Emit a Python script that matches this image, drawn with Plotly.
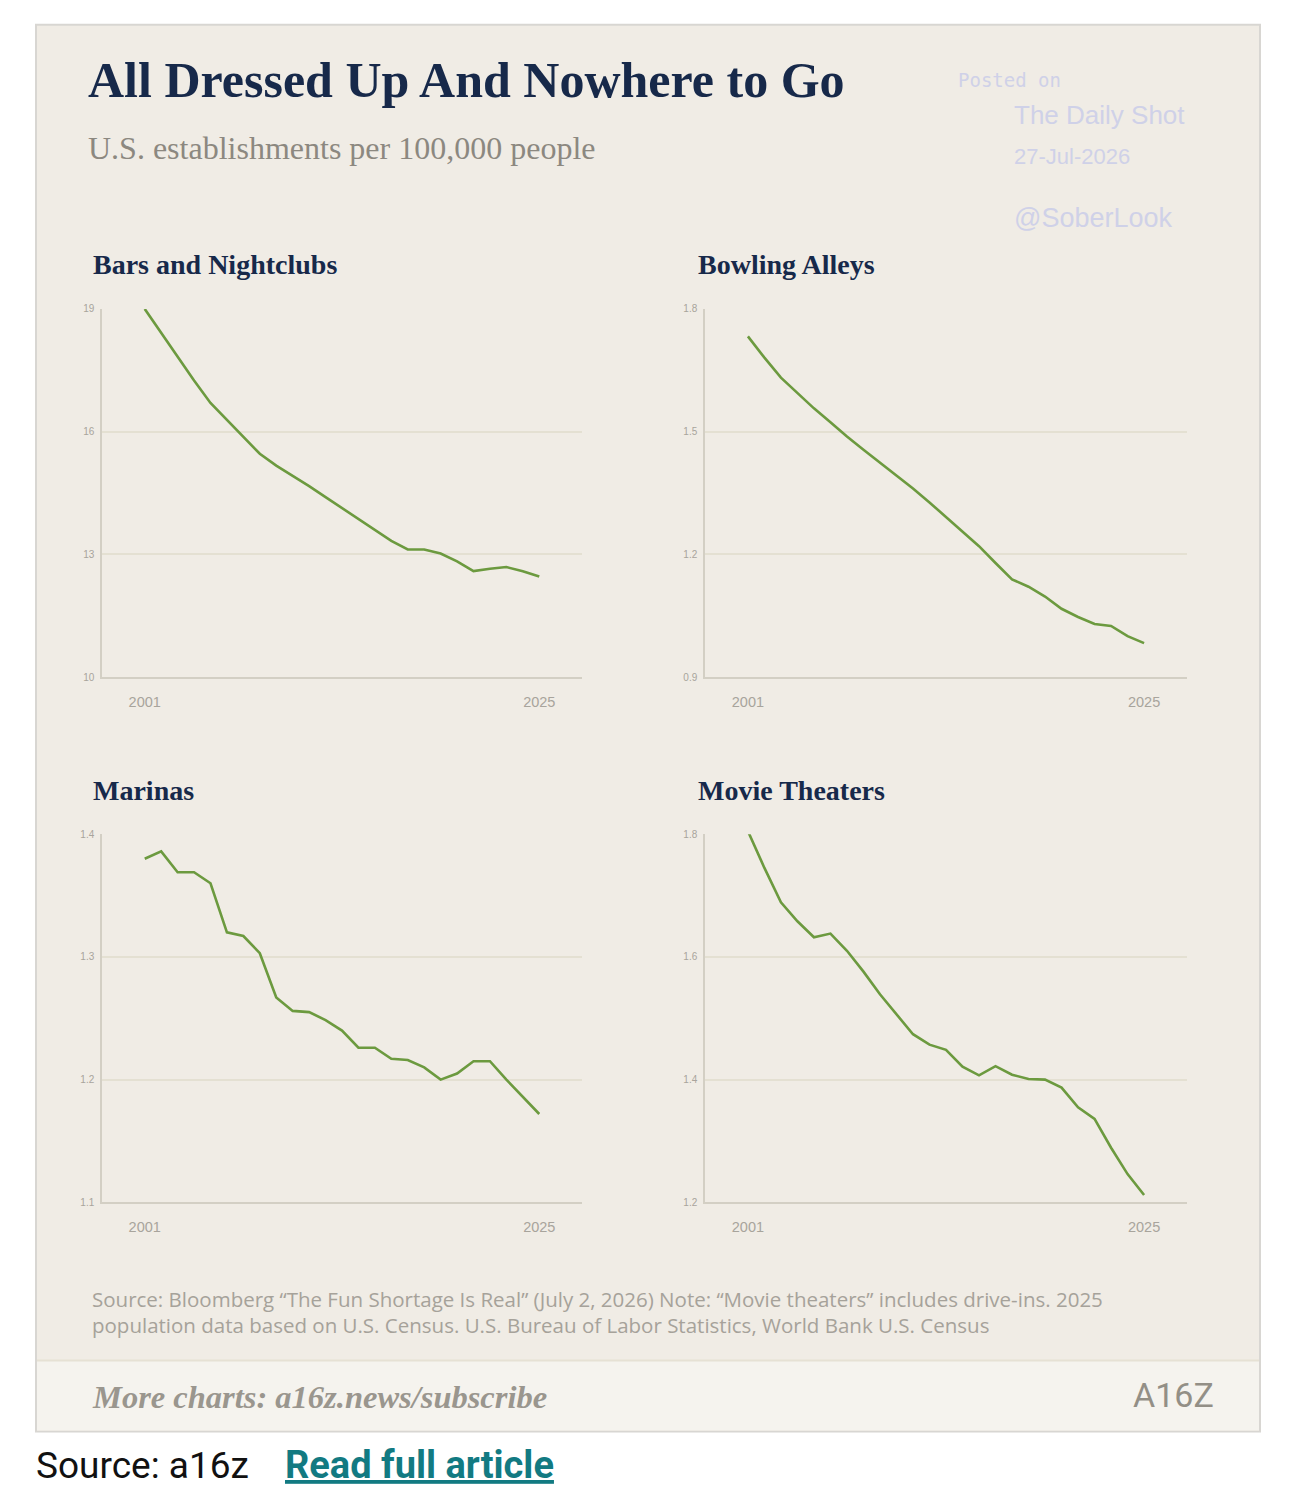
import plotly.graph_objects as go

# Annual series 2001-2025
years = list(range(2001, 2026))

bars_nightclubs = [19.0, 18.41, 17.82, 17.25, 16.70, 16.28, 15.87, 15.46, 15.17, 14.93,
                   14.67, 14.40, 14.13, 13.86, 13.59, 13.33, 13.12, 13.12, 13.02, 12.83,
                   12.59, 12.65, 12.69, 12.59, 12.46]
bowling_alleys = [1.733, 1.681, 1.632, 1.594, 1.557, 1.523, 1.488, 1.456, 1.425, 1.393,
                  1.361, 1.327, 1.291, 1.255, 1.220, 1.179, 1.139, 1.121, 1.097, 1.067,
                  1.047, 1.030, 1.025, 1.000, 0.983]
marinas = [1.380, 1.386, 1.369, 1.369, 1.360, 1.320, 1.317, 1.303, 1.267, 1.256,
           1.255, 1.2485, 1.240, 1.226, 1.226, 1.217, 1.216, 1.210, 1.200, 1.205,
           1.215, 1.215, 1.200, 1.186, 1.172]
movie_theaters = [1.805, 1.745, 1.689, 1.658, 1.632, 1.638, 1.610, 1.576, 1.539, 1.506,
                  1.474, 1.457, 1.4485, 1.421, 1.407, 1.422, 1.408, 1.401, 1.400, 1.387,
                  1.355, 1.336, 1.289, 1.246, 1.212]

panel_titles = ["Bars and Nightclubs", "Bowling Alleys", "Marinas", "Movie Theaters"]
panel_series = [bars_nightclubs, bowling_alleys, marinas, movie_theaters]
panel_ticks = [[10, 13, 16, 19], [0.9, 1.2, 1.5, 1.8], [1.1, 1.2, 1.3, 1.4], [1.2, 1.4, 1.6, 1.8]]
panel_ticktext = [["10", "13", "16", "19"], ["0.9", "1.2", "1.5", "1.8"],
                  ["1.1", "1.2", "1.3", "1.4"], ["1.2", "1.4", "1.6", "1.8"]]
x_ticks = [2001, 2025]

W, H = 1303, 1504
CARD = "#F0ECE5"
NAVY = "#17294A"
GREEN = "#6C9A3F"
GRID = "#E4E0D2"
AXIS = "#D3CFC4"
TICK = "#A8A49C"
WATERMARK = "#CFD1E8"


def px_x(p):
    return p / W


def px_y(p):
    # the photographed page comes out slightly squashed vertically, so undo that
    p = (p - 5.2) / 0.9929
    return 1 - p / H


# plot boxes in pixels: (left, right, top, bottom)
boxes = [(102, 582, 309, 677), (705, 1187, 309, 677),
         (102, 582, 834, 1202), (705, 1187, 834, 1202)]
title_pos = [(91, 265), (696, 265), (91, 790), (696, 790)]

fig = go.Figure()

for i, (series, box) in enumerate(zip(panel_series, boxes)):
    n = "" if i == 0 else str(i + 1)
    fig.add_trace(go.Scatter(x=years, y=series, mode="lines",
                             line=dict(color=GREEN, width=2.6),
                             xaxis="x" + n, yaxis="y" + n,
                             showlegend=False, hoverinfo="x+y"))
    l, r, t, b = box
    lo, hi = panel_ticks[i][0], panel_ticks[i][-1]
    fig.update_layout({
        "xaxis" + n: dict(domain=[px_x(l), px_x(r)], range=[1998.4, 2027.6],
                          anchor="y" + n, tickvals=x_ticks, showgrid=False,
                          zeroline=False, showline=True, linecolor=AXIS, linewidth=1.5,
                          ticks="", ticklabelstandoff=11,
                          tickfont=dict(family="Liberation Sans", size=14.5, color=TICK),
                          fixedrange=True),
        "yaxis" + n: dict(domain=[px_y(b), px_y(t)], range=[lo, hi],
                          anchor="x" + n, tickvals=panel_ticks[i], ticktext=panel_ticktext[i],
                          showgrid=True, gridcolor=GRID, gridwidth=1.5, zeroline=False,
                          showline=True, linecolor=AXIS, linewidth=1.5, ticks="",
                          ticklabelstandoff=4,
                          tickfont=dict(family="Liberation Sans", size=10, color=TICK),
                          fixedrange=True),
    })

shapes = [
    # card
    dict(type="rect", xref="paper", yref="paper", x0=px_x(36), x1=px_x(1260),
         y0=px_y(1431), y1=px_y(25), fillcolor=CARD, line=dict(color="#D8D6D2", width=2),
         layer="below"),
    # footer band
    dict(type="rect", xref="paper", yref="paper", x0=px_x(37), x1=px_x(1259),
         y0=px_y(1430), y1=px_y(1360), fillcolor="#F5F3EE", line=dict(width=0),
         layer="below"),
    dict(type="line", xref="paper", yref="paper", x0=px_x(37), x1=px_x(1259),
         y0=px_y(1360), y1=px_y(1360), line=dict(color="#E6E1D4", width=2), layer="below"),
]

annotations = [
    dict(text="<b>All Dressed Up And Nowhere to Go</b>", x=px_x(86), y=px_y(80),
         font=dict(family="Liberation Serif", size=50, color=NAVY)),
    dict(text="U.S. establishments per 100,000 people", x=px_x(86), y=px_y(148),
         font=dict(family="Liberation Serif", size=32, color="#8C8880")),
    dict(text="Posted on", x=px_x(956), y=px_y(80),
         font=dict(family="DejaVu Sans Mono", size=19, color=WATERMARK)),
    dict(text="The Daily Shot", x=px_x(1012), y=px_y(115),
         font=dict(family="Liberation Sans", size=26, color=WATERMARK)),
    dict(text="27-Jul-2026", x=px_x(1012), y=px_y(157),
         font=dict(family="Liberation Sans", size=22, color=WATERMARK)),
    dict(text="@SoberLook", x=px_x(1012), y=px_y(218),
         font=dict(family="Liberation Sans", size=27, color=WATERMARK)),
    dict(text="Source: Bloomberg \u201cThe Fun Shortage Is Real\u201d (July 2, 2026) Note: \u201cMovie theaters\u201d "
              "includes drive-ins. 2025", x=px_x(90), y=px_y(1299),
         font=dict(family="Open Sans", size=20.5, color="#A6A29A")),
    dict(text="population data based on U.S. Census. U.S. Bureau of Labor Statistics, World Bank U.S. Census",
         x=px_x(90), y=px_y(1325), font=dict(family="Open Sans", size=20.5, color="#A6A29A")),
    dict(text="<b><i>More charts: a16z.news/subscribe</i></b>", x=px_x(90), y=px_y(1397),
         font=dict(family="Liberation Serif", size=32.5, color="#9A968E")),
    dict(text="A16Z", x=px_x(1131), y=px_y(1395),
         font=dict(family="Roboto", size=34, color="#938F86")),
    dict(text="Source: a16z", x=px_x(34), y=px_y(1465),
         font=dict(family="Roboto", size=37, color="#111111")),
    dict(text="<b><u>Read full article</u></b>", x=px_x(283), y=px_y(1465),
         font=dict(family="Roboto", size=38, color="#127A82")),
]
for title, (tx, ty) in zip(panel_titles, title_pos):
    annotations.append(dict(text="<b>" + title + "</b>", x=px_x(tx), y=px_y(ty),
                            font=dict(family="Liberation Serif", size=28, color=NAVY)))

for a in annotations:
    a.update(xref="paper", yref="paper", xanchor="left", yanchor="middle", showarrow=False)

fig.update_layout(width=W, height=H, margin=dict(l=0, r=0, t=0, b=0),
                  paper_bgcolor="white", plot_bgcolor="rgba(0,0,0,0)",
                  shapes=shapes, annotations=annotations, showlegend=False)

# pin the figure to the window's top-left corner (no page margin)
pin = ("document.body.style.margin='0';"
       "var d=document.getElementById('{plot_id}');"
       "d.style.position='fixed';d.style.top='0';d.style.left='0';")
fig.write_html("out.html", config={"displayModeBar": False}, post_script=pin)
